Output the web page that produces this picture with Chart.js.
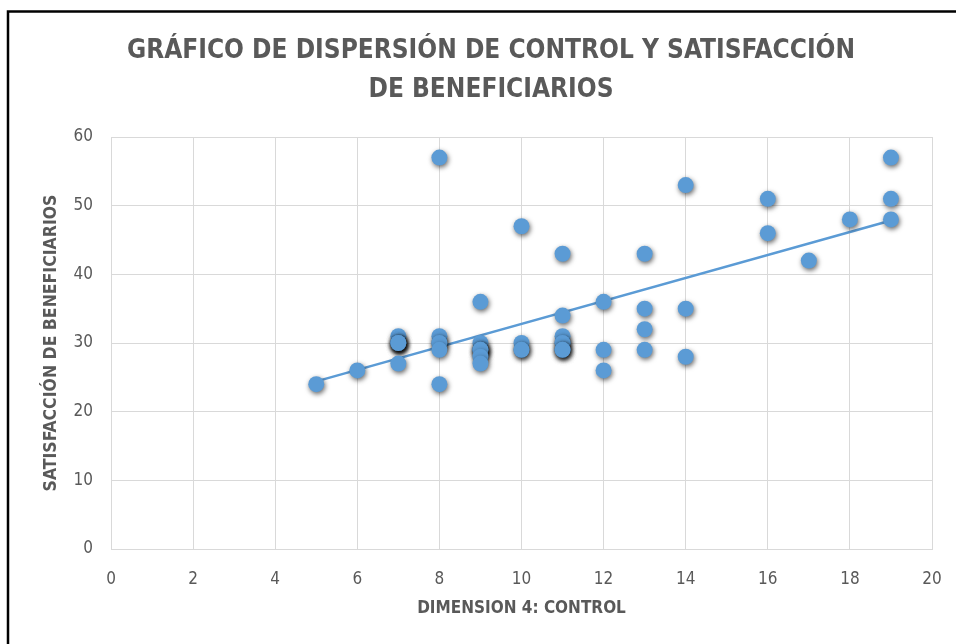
<!DOCTYPE html>
<html>
<head>
<meta charset="utf-8">
<script src="https://cdn.jsdelivr.net/npm/chart.js@4/dist/chart.umd.min.js"></script>
<style>
  html, body { margin: 0; padding: 0; background: #ffffff; }
  #wrap { width: 956px; height: 644px; position: relative; }
</style>
</head>
<body>
<div id="wrap"><canvas id="c" width="956" height="644"></canvas></div>
<script>
// Data
const controlX = [5, 6, 7, 7, 7, 7, 7, 7, 7, 8, 8, 8, 8, 8, 8, 9, 9, 9, 9, 9, 9, 9, 9, 10, 10, 10, 10, 11, 11, 11, 11, 11, 11, 11, 11, 12, 12, 12, 13, 13, 13, 13, 14, 14, 14, 16, 16, 17, 18, 19, 19, 19];
const satisfY  = [24, 26, 31, 30, 30, 30, 30, 30, 27, 57, 31, 30, 30, 29, 24, 36, 30, 29, 29, 29, 29, 28, 27, 47, 30, 29, 29, 43, 34, 31, 30, 30, 29, 29, 29, 36, 29, 26, 43, 35, 32, 29, 53, 35, 28, 51, 46, 42, 48, 57, 51, 48];
const xTicks = [0, 2, 4, 6, 8, 10, 12, 14, 16, 18, 20];
const yTicks = [0, 10, 20, 30, 40, 50, 60];
const titleLines = ['GRÁFICO DE DISPERSIÓN DE CONTROL Y SATISFACCIÓN', 'DE BENEFICIARIOS'];
const xTitle = 'DIMENSION 4: CONTROL';
const yTitle = 'SATISFACCIÓN DE BENEFICIARIOS';

const points = controlX.map((x, i) => ({ x: x, y: satisfY[i] }));

// Linear least-squares trendline from the data
const n = controlX.length;
const mx = controlX.reduce((a, b) => a + b, 0) / n;
const my = satisfY.reduce((a, b) => a + b, 0) / n;
let sxy = 0, sxx = 0;
for (let i = 0; i < n; i++) { sxy += (controlX[i] - mx) * (satisfY[i] - my); sxx += (controlX[i] - mx) ** 2; }
const slope = sxy / sxx, icpt = my - slope * mx;
const xmin = Math.min(...controlX), xmax = Math.max(...controlX);
const trend = [{ x: xmin, y: icpt + slope * xmin }, { x: xmax, y: icpt + slope * xmax }];

const BLUE = '#5B9BD5';
const GREY = '#595959';
const GRID = '#D9D9D9';
const FONT = "'Liberation Sans Narrow', 'DejaVu Sans Condensed', 'Open Sans', sans-serif";

const shadowPlugin = {
  id: 'markerShadow',
  beforeDatasetDraw(chart, args) {
    if (args.meta.type === 'scatter') {
      const ctx = chart.ctx;
      ctx.save();
      ctx.shadowColor = 'rgba(0,0,0,0.6)';
      ctx.shadowBlur = 5;
      ctx.shadowOffsetX = 1;
      ctx.shadowOffsetY = 2;
    }
  },
  afterDatasetDraw(chart, args) {
    if (args.meta.type === 'scatter') chart.ctx.restore();
  }
};

const framePlugin = {
  id: 'frame',
  beforeDraw(chart) {
    const ctx = chart.ctx;
    ctx.save();
    ctx.fillStyle = '#ffffff';
    ctx.fillRect(0, 0, chart.width, chart.height);
    ctx.strokeStyle = '#000000';
    ctx.lineWidth = 2.5;
    ctx.beginPath();
    ctx.moveTo(8, chart.height + 5);
    ctx.lineTo(8, 11.5);
    ctx.lineTo(chart.width + 5, 11.5);
    ctx.stroke();
    ctx.restore();
  }
};

new Chart(document.getElementById('c'), {
  type: 'scatter',
  data: {
    datasets: [
      {
        type: 'scatter',
        label: 'Satisfacción',
        data: points,
        backgroundColor: BLUE,
        borderColor: BLUE,
        borderWidth: 0,
        pointRadius: 8,
        pointHoverRadius: 8,
        order: 1
      },
      {
        type: 'line',
        label: 'Lineal',
        data: trend,
        borderColor: BLUE,
        borderWidth: 2.5,
        pointRadius: 0,
        fill: false,
        order: 2
      }
    ]
  },
  options: {
    responsive: false,
    animation: false,
    layout: { padding: { left: 50, right: 24, top: 0, bottom: 0 } },
    plugins: {
      legend: { display: false },
      tooltip: { enabled: false },
      title: {
        display: true,
        text: titleLines,
        color: GREY,
        font: { family: FONT, size: 26, weight: 'bold', lineHeight: 1.5 },
        padding: { top: 32, bottom: 27 }
      }
    },
    scales: {
      x: {
        type: 'linear',
        min: 0, max: 20,
        afterBuildTicks(scale) { scale.ticks = xTicks.map(v => ({ value: v })); },
        afterFit(scale) { scale.height = 95; scale.paddingLeft = 0; scale.paddingRight = 0; },
        grid: { color: GRID, drawTicks: false, lineWidth: 1 },
        border: { color: GRID, width: 1 },
        ticks: { color: GREY, font: { family: FONT, size: 17 }, padding: 20 },
        title: { display: true, text: xTitle, color: GREY, font: { family: FONT, size: 17, weight: 'bold' }, padding: { top: 0, bottom: 25 } }
      },
      y: {
        type: 'linear',
        min: 0, max: 60,
        afterBuildTicks(scale) { scale.ticks = yTicks.map(v => ({ value: v })); },
        afterFit(scale) { scale.width = 61; },
        grid: { color: GRID, drawTicks: false, lineWidth: 1 },
        border: { color: GRID, width: 1 },
        ticks: { color: GREY, font: { family: FONT, size: 17 }, padding: 18 },
        title: { display: true, text: yTitle, color: GREY, font: { family: FONT, size: 17.5, weight: 'bold' }, padding: { top: -9, bottom: 0 } }
      }
    }
  },
  plugins: [framePlugin, shadowPlugin]
});
</script>
</body>
</html>
